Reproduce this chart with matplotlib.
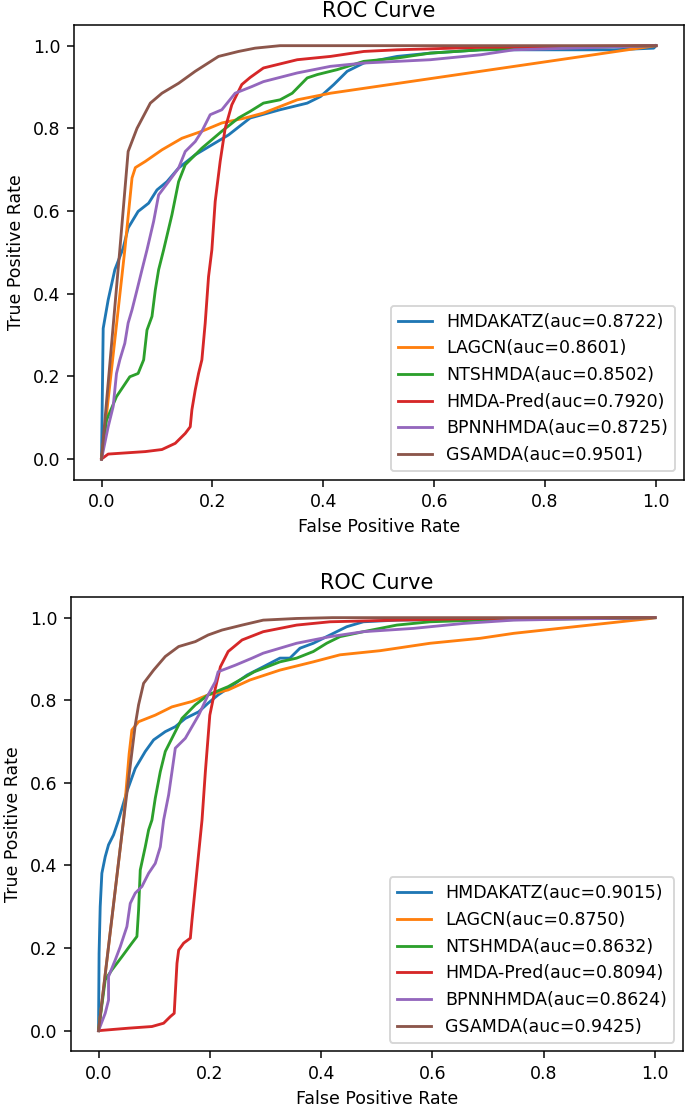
import numpy as np
import matplotlib
matplotlib.use('Agg')
import matplotlib.pyplot as plt

# 
# Curve points (fpr, tpr)
methods = ['HMDAKATZ', 'LAGCN', 'NTSHMDA', 'HMDA-Pred', 'BPNNHMDA', 'GSAMDA']

# ---- panel 1
auc1 = [0.8722, 0.8601, 0.8502, 0.7920, 0.8725, 0.9501]

katz1_fpr = [0, 0.003, 0.012, 0.024, 0.039, 0.048, 0.066, 0.085, 0.10, 0.118, 0.139, 0.169, 0.199, 0.229, 0.268, 0.322, 0.371, 0.395, 0.419, 0.443, 0.473, 0.533, 0.593, 0.684, 0.924, 0.996, 1.0]
katz1_tpr = [0, 0.316, 0.385, 0.458, 0.51, 0.559, 0.599, 0.619, 0.651, 0.671, 0.704, 0.736, 0.76, 0.784, 0.825, 0.845, 0.861, 0.877, 0.906, 0.938, 0.958, 0.974, 0.982, 0.99, 0.99, 0.994, 1.0]

lagcn1_fpr = [0, 0.02, 0.042, 0.055, 0.061, 0.079, 0.109, 0.145, 0.181, 0.217, 0.259, 0.292, 0.353, 0.413, 1.0]
lagcn1_tpr = [0, 0.24, 0.506, 0.68, 0.705, 0.72, 0.748, 0.776, 0.793, 0.813, 0.825, 0.837, 0.869, 0.885, 1.0]

ntsh1_fpr = [0, 0.009, 0.027, 0.051, 0.066, 0.076, 0.082, 0.091, 0.097, 0.103, 0.112, 0.127, 0.139, 0.151, 0.181, 0.217, 0.247, 0.268, 0.292, 0.322, 0.344, 0.371, 0.389, 0.425, 0.473, 0.533, 0.593, 0.684, 1.0]
ntsh1_tpr = [0, 0.094, 0.151, 0.199, 0.207, 0.24, 0.312, 0.345, 0.409, 0.458, 0.506, 0.591, 0.671, 0.712, 0.752, 0.793, 0.825, 0.841, 0.861, 0.869, 0.885, 0.922, 0.93, 0.942, 0.962, 0.970, 0.982, 0.99, 1.0]

red1_fpr = [0, 0.012, 0.079, 0.109, 0.133, 0.151, 0.16, 0.163, 0.169, 0.175, 0.181, 0.187, 0.193, 0.199, 0.205, 0.214, 0.223, 0.235, 0.253, 0.268, 0.292, 0.353, 0.413, 0.473, 0.533, 0.684, 1.0]
red1_tpr = [0, 0.012, 0.018, 0.023, 0.038, 0.062, 0.078, 0.119, 0.167, 0.207, 0.24, 0.329, 0.441, 0.506, 0.623, 0.72, 0.80, 0.857, 0.906, 0.923, 0.946, 0.966, 0.974, 0.986, 0.99, 0.996, 1.0]

bpnn1_fpr = [0, 0.012, 0.021, 0.027, 0.033, 0.042, 0.048, 0.055, 0.064, 0.073, 0.082, 0.094, 0.103, 0.121, 0.139, 0.151, 0.169, 0.181, 0.196, 0.217, 0.229, 0.241, 0.271, 0.292, 0.353, 0.413, 0.473, 0.593, 0.684, 0.744, 1.0]
bpnn1_tpr = [0, 0.078, 0.127, 0.207, 0.24, 0.28, 0.329, 0.361, 0.409, 0.458, 0.506, 0.575, 0.639, 0.671, 0.704, 0.744, 0.768, 0.793, 0.833, 0.845, 0.865, 0.885, 0.901, 0.913, 0.934, 0.95, 0.958, 0.966, 0.978, 0.99, 1.0]

gsam1_fpr = [0, 0.033, 0.048, 0.064, 0.088, 0.109, 0.139, 0.169, 0.211, 0.247, 0.277, 0.322, 1.0]
gsam1_tpr = [0, 0.506, 0.744, 0.80, 0.861, 0.885, 0.909, 0.938, 0.974, 0.986, 0.994, 1.0, 1.0]

# ---- panel 2
auc2 = [0.9015, 0.8750, 0.8632, 0.8094, 0.8624, 0.9425]

katz2_fpr = [0, 0.001, 0.003, 0.006, 0.012, 0.018, 0.027, 0.036, 0.051, 0.066, 0.084, 0.099, 0.12, 0.138, 0.156, 0.18, 0.197, 0.215, 0.246, 0.267, 0.296, 0.326, 0.344, 0.362, 0.386, 0.416, 0.446, 0.476, 0.536, 1.0]
katz2_tpr = [0, 0.187, 0.30, 0.381, 0.421, 0.45, 0.474, 0.51, 0.579, 0.635, 0.676, 0.704, 0.724, 0.736, 0.756, 0.772, 0.793, 0.813, 0.841, 0.861, 0.881, 0.902, 0.902, 0.926, 0.938, 0.958, 0.978, 0.99, 0.994, 1.0]

lagcn2_fpr = [0, 0.045, 0.055, 0.06, 0.072, 0.102, 0.132, 0.168, 0.197, 0.233, 0.272, 0.326, 0.386, 0.434, 0.506, 0.596, 0.686, 0.746, 0.992, 1.0]
lagcn2_tpr = [0, 0.51, 0.67, 0.728, 0.748, 0.764, 0.784, 0.797, 0.813, 0.825, 0.849, 0.873, 0.893, 0.91, 0.92, 0.938, 0.95, 0.962, 0.998, 1.0]

ntsh2_fpr = [0, 0.012, 0.024, 0.042, 0.06, 0.069, 0.072, 0.075, 0.084, 0.09, 0.096, 0.102, 0.111, 0.12, 0.138, 0.15, 0.174, 0.197, 0.233, 0.28, 0.326, 0.356, 0.386, 0.41, 0.434, 0.476, 0.536, 0.596, 0.686, 1.0]
ntsh2_tpr = [0, 0.123, 0.147, 0.179, 0.212, 0.228, 0.292, 0.389, 0.445, 0.486, 0.51, 0.563, 0.627, 0.676, 0.724, 0.756, 0.789, 0.813, 0.833, 0.869, 0.893, 0.902, 0.918, 0.938, 0.954, 0.966, 0.982, 0.99, 0.994, 1.0]

red2_fpr = [0, 0.054, 0.096, 0.117, 0.129, 0.136, 0.138, 0.141, 0.144, 0.153, 0.165, 0.168, 0.174, 0.18, 0.186, 0.192, 0.2, 0.21, 0.219, 0.233, 0.258, 0.296, 0.356, 0.416, 0.536, 0.686, 1.0]
red2_tpr = [0, 0.006, 0.01, 0.018, 0.034, 0.042, 0.091, 0.163, 0.195, 0.212, 0.224, 0.268, 0.349, 0.43, 0.51, 0.627, 0.764, 0.829, 0.881, 0.918, 0.946, 0.966, 0.982, 0.99, 0.994, 0.998, 1.0]

bpnn2_fpr = [0, 0.012, 0.018, 0.018, 0.03, 0.039, 0.051, 0.057, 0.066, 0.078, 0.09, 0.102, 0.111, 0.117, 0.126, 0.132, 0.138, 0.156, 0.18, 0.197, 0.21, 0.215, 0.246, 0.276, 0.296, 0.356, 0.416, 0.476, 0.566, 0.656, 0.746, 1.0]
bpnn2_tpr = [0, 0.042, 0.074, 0.131, 0.171, 0.203, 0.252, 0.308, 0.333, 0.349, 0.381, 0.405, 0.445, 0.51, 0.571, 0.627, 0.684, 0.708, 0.764, 0.813, 0.845, 0.869, 0.885, 0.902, 0.914, 0.938, 0.954, 0.966, 0.974, 0.986, 0.994, 1.0]

gsam2_fpr = [0, 0.045, 0.066, 0.072, 0.081, 0.099, 0.12, 0.144, 0.174, 0.197, 0.222, 0.258, 0.296, 0.356, 0.42, 1.0]
gsam2_tpr = [0, 0.51, 0.74, 0.789, 0.841, 0.873, 0.906, 0.93, 0.942, 0.958, 0.97, 0.982, 0.994, 0.998, 1.0, 1.0]

curves1 = [(katz1_fpr, katz1_tpr), (lagcn1_fpr, lagcn1_tpr), (ntsh1_fpr, ntsh1_tpr),
           (red1_fpr, red1_tpr), (bpnn1_fpr, bpnn1_tpr), (gsam1_fpr, gsam1_tpr)]
curves2 = [(katz2_fpr, katz2_tpr), (lagcn2_fpr, lagcn2_tpr), (ntsh2_fpr, ntsh2_tpr),
           (red2_fpr, red2_tpr), (bpnn2_fpr, bpnn2_tpr), (gsam2_fpr, gsam2_tpr)]

# 
# Figure, axes placed by hand (pixel boxes of the reference)
plt.rcParams['font.size'] = 9.2
W, H = 685, 1109
dpi = 136
fig = plt.figure(figsize=(W/dpi, H/dpi), dpi=dpi)

def box(l, r, t, b):
    return [l/W, 1-b/H, (r-l)/W, (b-t)/H]

ax1 = fig.add_axes(box(73.8, 683.7, 25, 479.7))
ax2 = fig.add_axes(box(70.7, 682.8, 597, 1051.3))

for ax, curves, aucs in [(ax1, curves1, auc1), (ax2, curves2, auc2)]:
    for name, (fpr, tpr), auc in zip(methods, curves, aucs):
        ax.plot(fpr, tpr, label='%s(auc=%.4f)' % (name, auc))
    ax.set_xlabel('False Positive Rate')
    ax.set_ylabel('True Positive Rate')
    ax.set_title('ROC Curve', pad=4)
    ax.legend(loc='lower right')

fig.savefig('out.png', dpi=dpi)
